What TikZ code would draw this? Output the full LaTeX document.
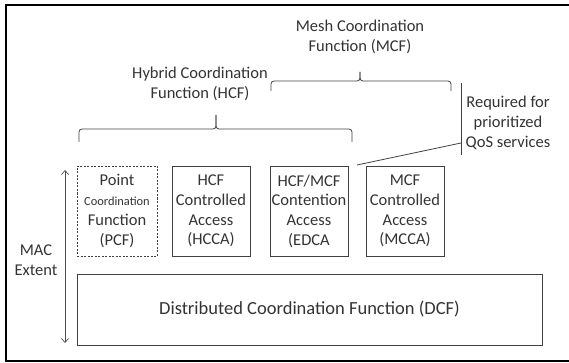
\documentclass[tikz,border=0pt]{standalone}
\usepackage{fontspec}
\setmainfont{Carlito}
\usetikzlibrary{arrows.meta}

\begin{document}
\begin{tikzpicture}[x=1pt,y=-1pt,
	box/.style={draw=black!75,line width=0.8pt,minimum width=78pt,minimum height=90pt,inner sep=0pt,
		align=center,text=black!80,font=\fontsize{16.5}{19.7}\selectfont},
	lbl/.style={align=center,text=black!80,inner sep=0pt,font=\fontsize{16.5}{20.3}\selectfont},
	brace/.style={draw=black!75,line width=0.8pt,rounded corners=3pt}]

\useasboundingbox (0,0) rectangle (569,363);

% frame
\draw[line width=2pt] (569,5) -- (6,5) -- (6,361) -- (569,361);

\def\hy{129}
\def\my{81}

% the access functions
\node (pcf) at (117,211) [box,minimum width=80pt,dash pattern=on 2pt off 1.5pt]
	{Point\\{\fontsize{12.4}{19.7}\selectfont Coordination}\\Function\\(PCF)};
\node (hcca) at (211,211) [box] {HCF\\Controlled\\Access\\(HCCA)};
\node (edca) at (309,211) [box] {HCF/MCF\\Contention\\Access\\(EDCA};
\node (mcca) at (405,211) [box] {MCF\\Controlled\\Access\\(MCCA)};

\node (dcf) at (309.5,309.5) [box,minimum width=465pt,minimum height=71pt,
	font=\fontsize{18.5}{22}\selectfont] {Distributed Coordination Function (DCF)};

% MAC extent
\coordinate (mtop) at (65,170);
\coordinate (mbot) at (65,343);
\draw[black!70,line width=0.7pt,{Straight Barb[length=4pt,width=7pt]}-{Straight Barb[length=4pt,width=7pt]}] (mtop) -- (mbot);
\node (mac) at (36,260.5) [lbl] {MAC\\Extent};

% HCF brace
\node (hcf) at (200,84) [lbl] {Hybrid Coordination\\Function (HCF)};
\draw[brace] (79,142) -- (79,\hy) -- (216,\hy) -- (216,115);
\draw[brace] (216,115) -- (216,\hy) -- (352,\hy) -- (352,142);

% MCF brace
\node (mcf) at (360,37) [lbl] {Mesh Coordination\\Function (MCF)};
\draw[brace] (271,91) -- (271,\my) -- (360,\my) -- (360,72);
\draw[brace] (360,72) -- (360,\my) -- (451,\my) -- (451,91);

% QoS
\coordinate (qtop) at (461,83);
\coordinate (qbot) at (461,155);
\coordinate (qlink) at (461,143);
\coordinate (elink) at (357,165);
\draw[black!75,line width=0.8pt] (qtop) -- (qbot);
\draw[black!75,line width=0.8pt] (elink) -- (qlink);
\node (req) at (508,123) [lbl] {Required for\\prioritized\\QoS services};

\end{tikzpicture}
\end{document}
